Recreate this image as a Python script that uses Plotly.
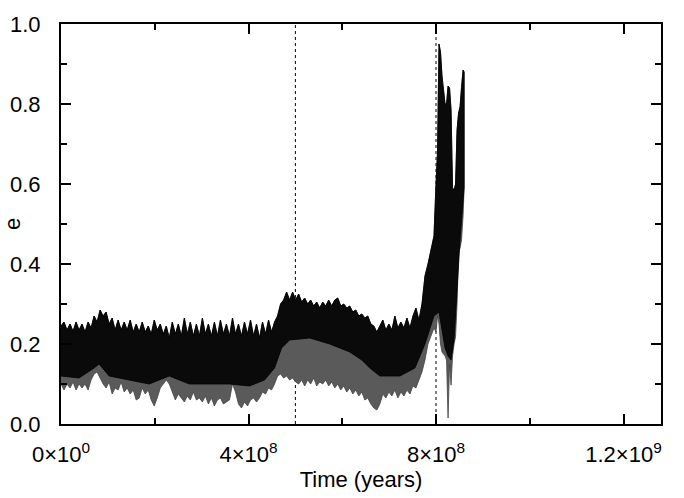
import plotly.graph_objects as go

# Time grid in units of 1e8 years
t8 = [0.000, 0.064, 0.128, 0.193, 0.257, 0.321, 0.385, 0.449, 0.513, 0.578,
      0.642, 0.706, 0.770, 0.834, 0.898, 0.963, 1.027, 1.091, 1.155, 1.219,
      1.283, 1.348, 1.412, 1.476, 1.540, 1.604, 1.668, 1.733, 1.797, 1.861,
      1.925, 1.989, 2.053, 2.118, 2.182, 2.246, 2.310, 2.374, 2.439, 2.503,
      2.567, 2.631, 2.695, 2.759, 2.824, 2.888, 2.952, 3.016, 3.080, 3.144,
      3.209, 3.273, 3.337, 3.401, 3.465, 3.529, 3.594, 3.658, 3.722, 3.786,
      3.850, 3.914, 3.979, 4.043, 4.107, 4.171, 4.235, 4.299, 4.364, 4.428,
      4.492, 4.556, 4.620, 4.684, 4.749, 4.813, 4.877, 4.941, 5.005, 5.070,
      5.134, 5.198, 5.262, 5.326, 5.390, 5.455, 5.519, 5.583, 5.647, 5.711,
      5.775, 5.840, 5.904, 5.968, 6.032, 6.096, 6.160, 6.225, 6.289, 6.353,
      6.417, 6.481, 6.545, 6.610, 6.674, 6.738, 6.802, 6.866, 6.930, 6.995,
      7.059, 7.123, 7.187, 7.251, 7.316, 7.380, 7.444, 7.508, 7.572, 7.636,
      7.701, 7.765, 7.829, 7.893, 7.957,
      8.000, 8.032, 8.064, 8.096, 8.128, 8.160, 8.193, 8.225, 8.257, 8.289,
      8.321, 8.353, 8.385, 8.417, 8.449, 8.481, 8.513, 8.545, 8.578, 8.599]

# Upper envelope of eccentricity oscillation
e_hi = [0.245, 0.255, 0.235, 0.25, 0.232, 0.255, 0.235, 0.25, 0.23, 0.255,
        0.24, 0.27, 0.255, 0.285, 0.27, 0.28, 0.25, 0.265, 0.235, 0.26,
        0.235, 0.255, 0.235, 0.26, 0.23, 0.25, 0.23, 0.255, 0.23, 0.245,
        0.225, 0.26, 0.235, 0.25, 0.225, 0.245, 0.215, 0.255, 0.225, 0.25,
        0.22, 0.265, 0.225, 0.255, 0.22, 0.25, 0.22, 0.265, 0.225, 0.25,
        0.22, 0.255, 0.22, 0.26, 0.225, 0.25, 0.22, 0.265, 0.225, 0.25,
        0.22, 0.255, 0.225, 0.26, 0.22, 0.25, 0.215, 0.255, 0.225, 0.26,
        0.23, 0.255, 0.27, 0.30, 0.31, 0.33, 0.31, 0.33, 0.31, 0.325,
        0.305, 0.315, 0.30, 0.31, 0.295, 0.305, 0.29, 0.305, 0.295, 0.31,
        0.295, 0.31, 0.315, 0.295, 0.30, 0.29, 0.295, 0.28, 0.285, 0.27,
        0.275, 0.265, 0.27, 0.25, 0.245, 0.23, 0.245, 0.26, 0.235, 0.25,
        0.235, 0.27, 0.24, 0.255, 0.24, 0.265, 0.24, 0.27, 0.29, 0.26,
        0.30, 0.37, 0.40, 0.44, 0.47,
        0.60, 0.68, 0.95, 0.93, 0.87, 0.84, 0.80, 0.80, 0.845, 0.84,
        0.785, 0.59, 0.585, 0.60, 0.735, 0.777, 0.793, 0.843, 0.885, 0.88]

# Lower envelope
e_lo = [0.10, 0.085, 0.10, 0.09, 0.105, 0.085, 0.10, 0.09, 0.10, 0.085,
        0.11, 0.125, 0.13, 0.115, 0.10, 0.09, 0.105, 0.075, 0.09, 0.085,
        0.105, 0.08, 0.09, 0.075, 0.085, 0.06, 0.065, 0.09, 0.075, 0.085,
        0.06, 0.045, 0.065, 0.09, 0.10, 0.11, 0.10, 0.08, 0.06, 0.075,
        0.065, 0.055, 0.07, 0.06, 0.08, 0.06, 0.065, 0.055, 0.07, 0.05,
        0.065, 0.045, 0.06, 0.065, 0.05, 0.055, 0.06, 0.10, 0.08, 0.05,
        0.04, 0.055, 0.045, 0.06, 0.065, 0.055, 0.065, 0.08, 0.075, 0.09,
        0.085, 0.10, 0.12, 0.125, 0.115, 0.12, 0.11, 0.115, 0.105, 0.10,
        0.11, 0.095, 0.11, 0.10, 0.115, 0.095, 0.105, 0.10, 0.11, 0.095,
        0.105, 0.09, 0.10, 0.085, 0.095, 0.08, 0.09, 0.075, 0.085, 0.07,
        0.08, 0.06, 0.065, 0.05, 0.04, 0.035, 0.05, 0.075, 0.065, 0.08,
        0.07, 0.085, 0.065, 0.08, 0.07, 0.085, 0.075, 0.095, 0.09, 0.11,
        0.13, 0.16, 0.20, 0.22, 0.24,
        0.23, 0.27, 0.25, 0.20, 0.18, 0.175, 0.17, 0.16, 0.015, 0.15,
        0.097, 0.17, 0.20, 0.218, 0.30, 0.43, 0.44, 0.46, 0.52, 0.59]

# Lower edge of the densely inked (black) part of the band
t_mid = [0.000, 0.385, 0.706, 0.813, 1.027, 1.455, 1.882, 2.310, 2.738, 3.166,
         3.594, 4.021, 4.342, 4.556, 4.706, 4.877, 5.305, 5.733, 6.160, 6.417,
         6.588, 6.802, 7.230, 7.551, 7.765, 7.957, 8.064, 8.193, 8.257, 8.321,
         8.385, 8.449, 8.513, 8.599]
e_mid = [0.12, 0.115, 0.14, 0.15, 0.12, 0.11, 0.10, 0.12, 0.10, 0.10,
         0.10, 0.095, 0.11, 0.14, 0.19, 0.21, 0.215, 0.20, 0.18, 0.16,
         0.14, 0.12, 0.12, 0.14, 0.20, 0.27, 0.28, 0.19, 0.17, 0.16,
         0.21, 0.33, 0.46, 0.59]

markers = [5e8, 8e8]

x_tickvals = [0, 4e8, 8e8, 1.2e9]
x_ticktext = ["0×10<sup>0</sup>", "4×10<sup>8</sup>", "8×10<sup>8</sup>", "1.2×10<sup>9</sup>"]

T = [v * 1e8 for v in t8]
Tm = [v * 1e8 for v in t_mid]

fig = go.Figure()
# gray (sparser) full band
fig.add_trace(go.Scatter(
    x=T + T[::-1], y=e_hi + e_lo[::-1], mode="lines", fill="toself",
    fillcolor="#5a5a5a", line=dict(color="#444444", width=0.8),
    hoverinfo="skip", showlegend=False))
# dense black part
fig.add_trace(go.Scatter(
    x=T + Tm[::-1], y=e_hi + e_mid[::-1], mode="lines", fill="toself",
    fillcolor="#0a0a0a", line=dict(color="#000000", width=0.8),
    hoverinfo="skip", showlegend=False))

for m in markers:
    fig.add_vline(x=m, line=dict(color="black", width=1, dash="dot"), layer="below")

font = dict(family="Liberation Sans, Arial, Helvetica, sans-serif", size=22, color="black")

fig.update_layout(
    width=684, height=498, autosize=False,
    margin=dict(l=61, r=23, t=24, b=74),
    paper_bgcolor="white", plot_bgcolor="white",
    font=font, showlegend=False,
)
fig.update_xaxes(
    range=[0, 1.28e9], tickmode="array", tickvals=x_tickvals, ticktext=x_ticktext,
    showgrid=False, zeroline=False, showline=True, linecolor="black", linewidth=2,
    mirror="allticks", ticks="inside", ticklen=10, tickwidth=1.5, tickcolor="black",
    minor=dict(dtick=2e8, tick0=0, ticks="inside", ticklen=6, tickwidth=1.5, tickcolor="black"),
    title=dict(text="Time (years)", standoff=2, font=font),
    ticklabelstandoff=10, automargin=False,
)
fig.update_yaxes(
    range=[0, 1.0], dtick=0.2, tickformat=".1f",
    showgrid=False, zeroline=False, showline=True, linecolor="black", linewidth=2,
    mirror="allticks", ticks="inside", ticklen=10, tickwidth=1.5, tickcolor="black",
    minor=dict(dtick=0.1, ticks="inside", ticklen=6, tickwidth=1.5, tickcolor="black"),
    title=dict(text="e", standoff=20, font=font),
    ticklabelstandoff=14, automargin=False,
)

fig.write_html("out.html", config={"displayModeBar": False},
               post_script="document.body.style.margin='0';")
